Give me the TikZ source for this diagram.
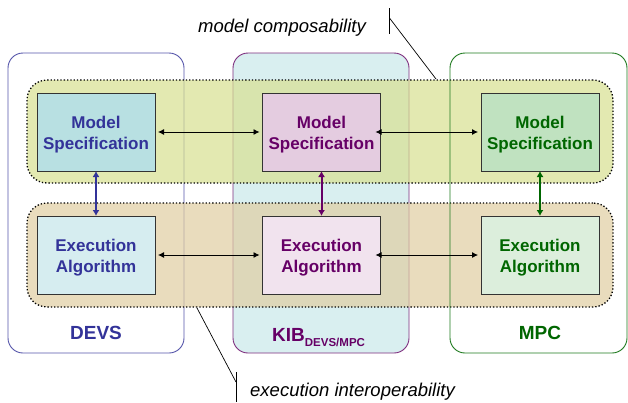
\documentclass[tikz,border=0pt]{standalone}
\usepackage{fontspec}
\setmainfont{Liberation Sans}
\usetikzlibrary{arrows.meta}
\definecolor{devsc}{HTML}{333399}
\definecolor{devsl}{HTML}{5555AA}
\definecolor{kibc}{HTML}{660066}
\definecolor{kibl}{HTML}{7F2F7F}
\definecolor{mpcc}{HTML}{006600}
\definecolor{mpcl}{HTML}{1F7A1F}
\definecolor{kibfill}{HTML}{D9EFF0}
\definecolor{topband}{HTML}{D8E091}
\definecolor{botband}{HTML}{E0CEA2}
\definecolor{devsm}{HTML}{B8E0E2}
\definecolor{devse}{HTML}{D6EDF0}
\definecolor{kibm}{HTML}{E4CCE0}
\definecolor{kibe}{HTML}{F1E3EE}
\definecolor{mpcm}{HTML}{C0E2C0}
\definecolor{mpce}{HTML}{DCEEDC}
\newcommand{\twolines}[2]{\raisebox{-3pt}[\height][\depth]{\begin{tabular}{@{}c@{}}#1\\#2\end{tabular}}}
\tikzset{
  frame/.style={rounded corners=15pt, minimum width=176pt, minimum height=300pt, inner sep=0pt, outer sep=0pt, line width=0.9pt},
  band/.style={rounded corners=20pt, minimum width=586pt, minimum height=103pt, inner sep=0pt, outer sep=0pt, draw=black, line width=1.3pt, dotted, fill opacity=0.7},
  inner/.style={draw=black!80, line width=1pt, minimum width=118pt, minimum height=78pt, inner sep=0pt, outer sep=0pt, align=center, font=\fontsize{17}{21}\selectfont\bfseries},
  harr/.style={{Latex[length=6pt,width=6pt]}-{Latex[length=6pt,width=6pt]}, line width=0.8pt, black, shorten <=3pt, shorten >=3pt},
  varr/.style={{Latex[length=6pt,width=7pt]}-{Latex[length=6pt,width=7pt]}, line width=2pt},
  lbl/.style={font=\fontsize{19}{22}\selectfont\bfseries, inner sep=0pt},
  note/.style={font=\fontsize{18.5}{22}\selectfont\itshape, inner sep=0pt, anchor=base west},
  pointer/.style={line width=0.7pt, black}
}
\begin{document}
\begin{tikzpicture}[x=1pt,y=-1pt]
\useasboundingbox (0,0) rectangle (628,402);
\fill[white] (0,0) rectangle (628,402);
% frames
\node[frame, draw=devsl] (devs) at (96,203) {};
\node[frame, draw=kibl, fill=kibfill] (kib) at (321,203) {};
% bands
\node[band, fill=topband] (top) at (320,131.5) {};
\node[band, fill=botband, minimum height=104pt] (bot) at (320,255) {};
% MPC frame lies over the bands
\node[frame, draw=mpcl, minimum width=177pt] (mpc) at (538.5,203) {};
% inner boxes
\node[inner, fill=devsm, text=devsc] (dm) at (96,132) {\twolines{Model}{Specification}};
\node[inner, fill=devse, text=devsc] (de) at (96,255) {\twolines{Execution}{Algorithm}};
\node[inner, fill=kibm, text=kibc] (km) at (321.5,132) {\twolines{Model}{Specification}};
\node[inner, fill=kibe, text=kibc] (ke) at (321.5,255) {\twolines{Execution}{Algorithm}};
\node[inner, fill=mpcm, text=mpcc] (mm) at (540,132) {\twolines{Model}{Specification}};
\node[inner, fill=mpce, text=mpcc] (me) at (540,255) {\twolines{Execution}{Algorithm}};
% horizontal arrows
\draw[harr] (dm.east) -- (km.west);
\draw[harr, shorten <=-5pt] (km.east) -- (mm.west);
\draw[harr] (de.east) -- (ke.west);
\draw[harr, shorten <=-5pt] (ke.east) -- (me.west);
% vertical arrows
\draw[varr, devsc] (dm.south) -- (de.north);
\draw[varr, kibc] (km.south) -- (ke.north);
\draw[varr, mpcc] (mm.south) -- (me.north);
% labels
\node[lbl, text=devsc] (ldevs) at (96,333) {DEVS};
\node[lbl, text=mpcc] (lmpc) at (540,333) {MPC};
\node[lbl, text=kibc, anchor=base west] (lkib) at (272,341) {KIB\raisebox{-5pt}{\fontsize{11.5}{13}\selectfont DEVS/MPC}};
% annotations
\node[note] (mc) at (198,32) {model composability};
\coordinate (mcbar1) at (389,8);
\coordinate (mcbar2) at (389,34);
\coordinate (mcp) at (389.5,18);
\coordinate (mct) at (436,79);
\draw[pointer] (mcbar1) -- (mcbar2);
\draw[pointer] (mcp) -- (mct);
\node[note] (ei) at (250,396) {execution interoperability};
\coordinate (eibar1) at (236,372);
\coordinate (eibar2) at (236,402);
\coordinate (eip) at (236,382);
\coordinate (eit) at (197,308);
\draw[pointer] (eibar1) -- (eibar2);
\draw[pointer] (eip) -- (eit);
\end{tikzpicture}
\end{document}
